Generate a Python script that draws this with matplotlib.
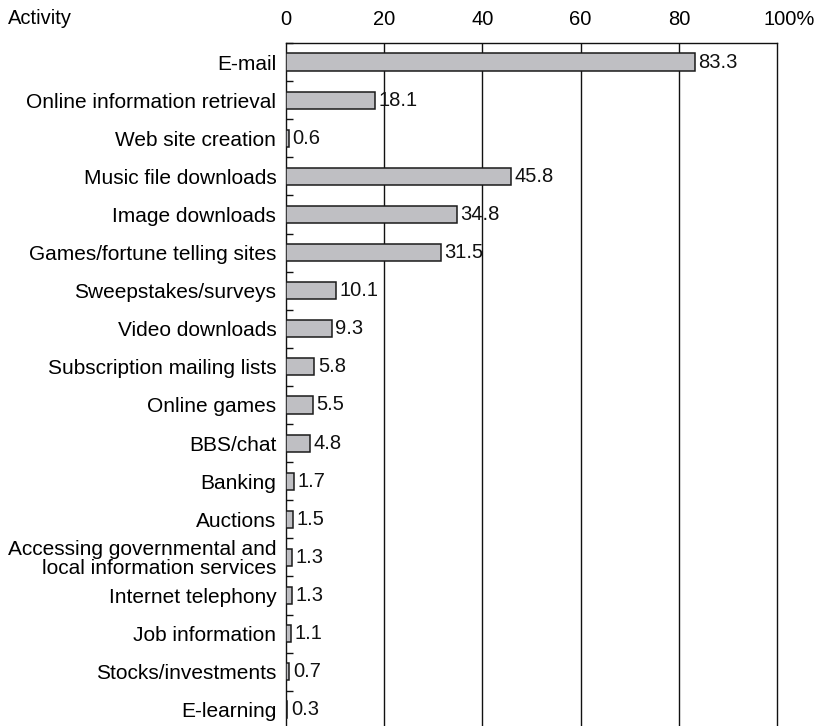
import numpy as np
import matplotlib.pyplot as plt
import matplotlib.transforms as mtransforms

plt.rcParams['font.family'] = ['Liberation Sans', 'DejaVu Sans']

# 数据
ACTIVITIES = [
    "E-mail",
    "Online information retrieval",
    "Web site creation",
    "Music file downloads",
    "Image downloads",
    "Games/fortune telling sites",
    "Sweepstakes/surveys",
    "Video downloads",
    "Subscription mailing lists",
    "Online games",
    "BBS/chat",
    "Banking",
    "Auctions",
    "Accessing governmental and\nlocal information services",
    "Internet telephony",
    "Job information",
    "Stocks/investments",
    "E-learning",
]
PERCENT = [83.3, 18.1, 0.6, 45.8, 34.8, 31.5, 10.1, 9.3, 5.8, 5.5, 4.8,
           1.7, 1.5, 1.3, 1.3, 1.1, 0.7, 0.3]
X_TICKS = [0, 20, 40, 60, 80, 100]
X_TICK_LABELS = ["0", "20", "40", "60", "80", "100%"]

FS = 14.5


def main():
    fig = plt.figure(figsize=(8.15, 7.26), dpi=100)
    ax = fig.add_axes([0.3509, -0.004, 0.6025, 0.9448])

    y = np.arange(len(ACTIVITIES))
    ax.barh(y, PERCENT, height=0.45, color="#bfbfc3",
            edgecolor="#1a1a1a", linewidth=1.1, zorder=3)

    # 数值标签
    for yi, v in zip(y, PERCENT):
        ax.annotate(f"{v}", xy=(v, yi), xytext=(2.5, 0),
                    textcoords="offset points", ha="left", va="center",
                    fontsize=FS, color="#111111", zorder=4)

    ax.set_xlim(0, 100)
    ax.set_ylim(len(ACTIVITIES) - 0.5, -0.5)

    # 竖向网格线
    for t in X_TICKS[1:-1]:
        ax.axvline(t, color="#111111", linewidth=1.0, zorder=1)

    ax.xaxis.tick_top()
    ax.set_xticks(X_TICKS)
    ax.set_xticklabels(X_TICK_LABELS)
    ax.tick_params(axis="x", length=0, pad=10, labelsize=FS)
    last = ax.get_xticklabels()[-1]
    last.set_transform(last.get_transform() +
                       mtransforms.ScaledTranslation(12 / 100, 0, fig.dpi_scale_trans))

    ax.set_yticks(y)
    ax.set_yticklabels(ACTIVITIES, multialignment="right", linespacing=0.95)
    ax.tick_params(axis="y", length=0, pad=7, labelsize=15)
    ax.set_yticks(np.arange(-0.5, len(ACTIVITIES), 1.0), minor=True)
    ax.tick_params(axis="y", which="minor", direction="in", length=5,
                   width=1.0, color="#111111")

    for s in ["top", "left", "right"]:
        ax.spines[s].set_color("#111111")
        ax.spines[s].set_linewidth(1.0)
    ax.spines["bottom"].set_visible(False)

    fig.text(8 / 815, 1 - 18 / 726, "Activity", ha="left", va="center",
             fontsize=FS)

    fig.savefig("out.png", dpi=100)
    plt.close(fig)


if __name__ == "__main__":
    main()
